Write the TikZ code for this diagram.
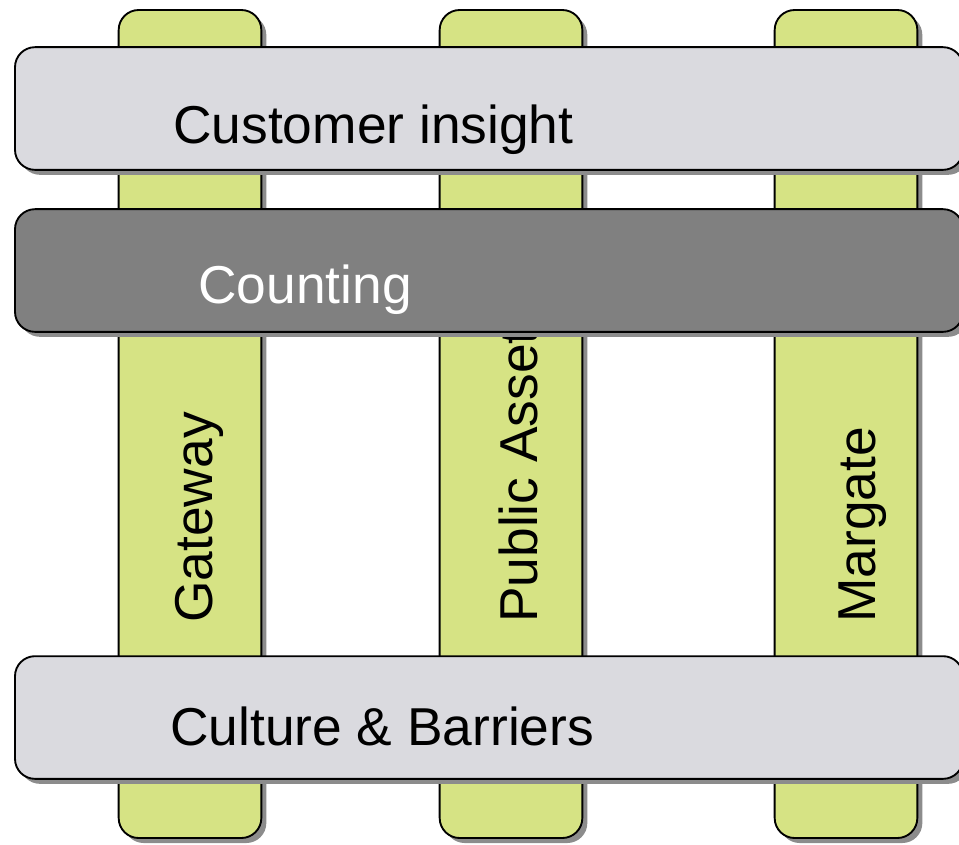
\documentclass[tikz,border=0pt]{standalone}
\usepackage{fontspec}
\setmainfont{Liberation Sans}
\usetikzlibrary{shadows}
\definecolor{barlime}{RGB}{214,227,132}
\definecolor{barlight}{RGB}{218,218,223}
\definecolor{bardark}{RGB}{128,128,128}
\tikzstyle{pillar}=[draw,line width=1.4pt,rounded corners=15pt,fill=barlime,minimum width=107pt,minimum height=621pt,inner sep=0pt,drop shadow={shadow xshift=3.75pt,shadow yshift=-3.75pt,fill=black!45,opacity=1}]
\tikzstyle{layer}=[draw,line width=1.4pt,rounded corners=15pt,fill=barlight,minimum width=711pt,minimum height=92pt,inner sep=0pt,drop shadow={shadow xshift=3.75pt,shadow yshift=-3.75pt,fill=black!45,opacity=1}]
\tikzstyle{pillartext}=[rotate=90,anchor=base west,inner sep=0pt,font=\fontsize{40}{48}\selectfont]
\tikzstyle{layertext}=[anchor=base west,inner sep=0pt,font=\fontsize{40}{48}\selectfont]

\begin{document}
\begin{tikzpicture}[x=0.75pt,y=-0.75pt]

    \useasboundingbox (0,0) rectangle (959,844);
    \clip (0,0) rectangle (959,844);

    % vertical pillars with their labels
    \foreach \pos/ \name/ \base/ \txt in {{190/gw/212/Gateway},{511/pa/537/Public Assets},{846/mg/875/Margate}} {
        \node[pillar] (\name) at (\pos,424) {};
        \node[pillartext] (\name-t) at (\base,623) {\txt};
    }

    % horizontal layers on top
    \node[layer] (ci) at (489,108.5) {};
    \node[layertext] (ci-t) at (173,143) {Customer insight};

    \node[layer,fill=bardark] (cn) at (489,270.5) {};
    \node[layertext,text=white] (cn-t) at (198,303) {Counting};

    \node[layer] (cb) at (489,717.5) {};
    \node[layertext] (cb-t) at (170,745) {Culture \& Barriers};

\end{tikzpicture}
\end{document}
